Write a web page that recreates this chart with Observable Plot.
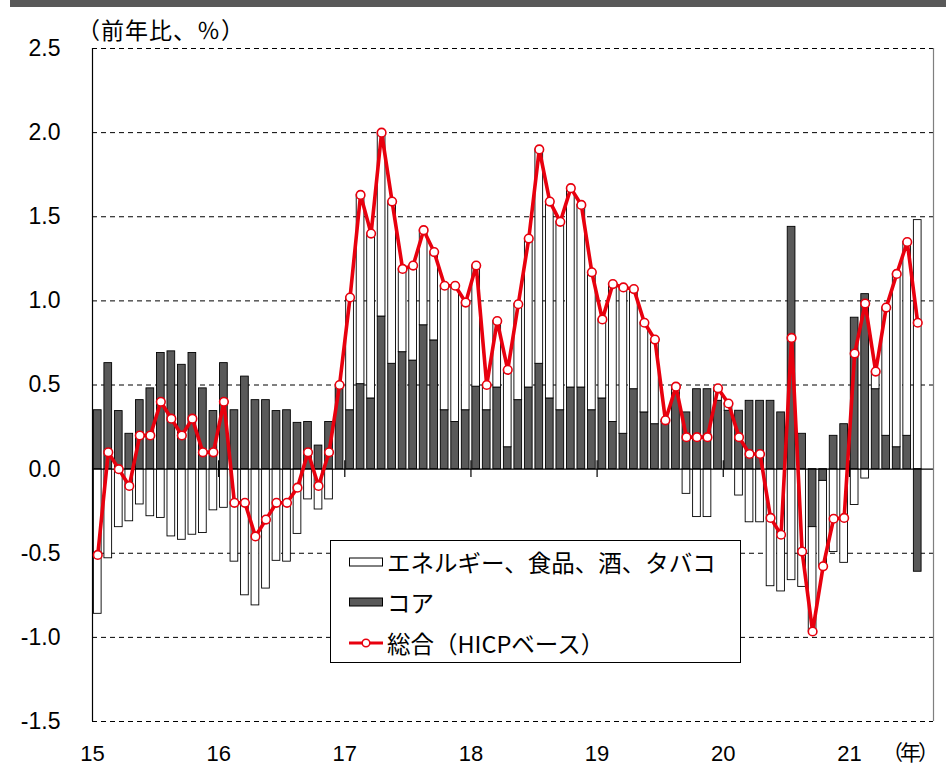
<!DOCTYPE html>
<html>
<head>
<meta charset="utf-8">
<script src="https://cdn.jsdelivr.net/npm/d3@7"></script>
<script src="https://cdn.jsdelivr.net/npm/@observablehq/plot@0.6"></script>
<style>
  body { margin: 0; background: #fff; }
  #wrap { position: relative; width: 946px; height: 766px; overflow: hidden; font-family: "Liberation Sans", Arial, sans-serif; }
  #wrap > svg { position: absolute; left: 0; top: 0; }
  .band { position: absolute; left: 10px; top: 0; width: 936px; height: 7px; background: #595959; }
  .ylab { position: absolute; left: 77px; top: 14px; font-family: "Noto Sans CJK JP", sans-serif; font-size: 23px; line-height: 30px; color: #000; white-space: nowrap; letter-spacing: 1px; }
  .xunit { position: absolute; left: 882px; top: 737px; width: 62px; font-family: "Noto Sans CJK JP", sans-serif; font-size: 21px; line-height: 28px; color: #000; white-space: nowrap; letter-spacing: -3px; }
  .legend { position: absolute; left: 330px; top: 540px; width: 409px; height: 121px; border: 1px solid #000; background: #fff; }
  .legend .row { position: absolute; left: 17px; height: 30px; display: flex; align-items: center; font-family: "Noto Sans CJK JP", sans-serif; font-size: 23.5px; color: #000; white-space: nowrap; }
  #wrap .legend svg { position: static; display: block; margin-right: 3px; flex: none; }
</style>
</head>
<body>
<div id="wrap">
  <div class="band"></div>
  <div class="ylab">（前年比、％）</div>
  <div class="xunit">（年）</div>
</div>
<script>
// Months Jan 2015 .. Jul 2021 (index 0..78); x domain spans 80 monthly slots
const yearLabels = ["15", "16", "17", "18", "19", "20", "21"];
const yTicks = [-1.5, -1.0, -0.5, 0, 0.5, 1.0, 1.5, 2.0, 2.5];
const seriesNames = ["エネルギー、食品、酒、タバコ", "コア", "総合（HICPベース）"];

// Core contribution (dark bars)
const core = [
  0.35, 0.63, 0.345, 0.21, 0.41, 0.48, 0.69, 0.70, 0.62, 0.69, 0.48, 0.345,
  0.63, 0.35, 0.55, 0.41, 0.41, 0.345, 0.35, 0.275, 0.28, 0.14, 0.28, 0.50,
  0.35, 0.505, 0.42, 0.907, 0.626, 0.695, 0.645, 0.855, 0.765, 0.35, 0.28, 0.35,
  0.49, 0.35, 0.485, 0.13, 0.41, 0.485, 0.626, 0.42, 0.35, 0.485, 0.485, 0.35,
  0.42, 0.28, 0.21, 0.475, 0.337, 0.267, 0.28, 0.45, 0.337, 0.475, 0.475, 0.406,
  0.347, 0.347, 0.406, 0.406, 0.406, 0.337, 1.44, 0.21, -0.345, -0.07, 0.198, 0.267,
  0.90, 1.04, 0.475, 0.198, 0.13, 0.198, -0.61
];
// Energy, food, alcohol, tobacco contribution (white bars)
const energyFood = [
  -0.86, -0.53, -0.345, -0.31, -0.21, -0.28, -0.29, -0.40, -0.42, -0.39, -0.38, -0.245,
  -0.23, -0.55, -0.75, -0.81, -0.71, -0.545, -0.55, -0.385, -0.18, -0.24, -0.18, 0.0,
  0.67, 1.125, 0.98, 1.093, 0.964, 0.495, 0.565, 0.565, 0.525, 0.74, 0.81, 0.64,
  0.72, 0.15, 0.395, 0.46, 0.57, 0.885, 1.274, 1.17, 1.12, 1.185, 1.085, 0.82,
  0.47, 0.82, 0.87, 0.595, 0.533, 0.503, 0.01, 0.04, -0.147, -0.285, -0.285, 0.074,
  0.043, -0.157, -0.316, -0.316, -0.696, -0.727, -0.66, -0.70, -0.62, -0.508, -0.493, -0.557,
  -0.213, -0.056, 0.105, 0.762, 1.03, 1.152, 1.48
];
// Headline HICP (red line)
const total = [
  -0.51, 0.10, 0.00, -0.10, 0.20, 0.20, 0.40, 0.30, 0.20, 0.30, 0.10, 0.10,
  0.40, -0.20, -0.20, -0.40, -0.30, -0.20, -0.20, -0.11, 0.10, -0.10, 0.10, 0.50,
  1.02, 1.63, 1.40, 2.00, 1.59, 1.19, 1.21, 1.42, 1.29, 1.09, 1.09, 0.99,
  1.21, 0.50, 0.88, 0.59, 0.98, 1.37, 1.90, 1.59, 1.47, 1.67, 1.57, 1.17,
  0.89, 1.10, 1.08, 1.07, 0.87, 0.77, 0.29, 0.49, 0.19, 0.19, 0.19, 0.48,
  0.39, 0.19, 0.09, 0.09, -0.29, -0.39, 0.78, -0.49, -0.965, -0.578, -0.295, -0.29,
  0.687, 0.984, 0.58, 0.96, 1.16, 1.35, 0.87
];

const nSlots = 80;
const yearStarts = yearLabels.map((_, k) => k * 12);

const bars = [
  ...core.map((v, i) => ({i, series: seriesNames[1], value: v})),
  ...energyFood.map((v, i) => ({i, series: seriesNames[0], value: v}))
];
const line = total.map((v, i) => ({i, value: v}));

const red = "#e8000e";

const chart = Plot.plot({
  width: 946,
  height: 766,
  marginLeft: 92,
  marginRight: 13,
  marginTop: 48,
  marginBottom: 45,
  style: {fontFamily: "'Liberation Sans', Arial, sans-serif", fontSize: "21px", background: "transparent", color: "#000"},
  x: {domain: [0, nSlots], axis: null},
  y: {domain: [-1.5, 2.5], axis: null},
  color: {domain: [seriesNames[0], seriesNames[1]], range: ["#ffffff", "#595959"]},
  marks: [
    Plot.ruleY(yTicks.filter(d => d !== 0), {stroke: "#000", strokeWidth: 1, strokeDasharray: "5,4"}),
    Plot.rectY(bars, Plot.stackY({
      x: "i",
      x1: d => d.i,
      x2: d => d.i + 1,
      y: "value",
      z: "series",
      fill: "series",
      stroke: "#000",
      strokeWidth: 0.9,
      insetLeft: 1.4,
      insetRight: 1.4
    })),
    Plot.ruleY([0], {stroke: "#000", strokeWidth: 1.2}),
    Plot.ruleX(yearStarts.slice(1), {y1: -0.05, y2: 0.05, stroke: "#000", strokeWidth: 1.2}),
    Plot.ruleX([0], {stroke: "#000", strokeWidth: 1.2}),
    Plot.ruleX([nSlots], {stroke: "#7f7f7f", strokeWidth: 1.2}),
    Plot.line(line, {x: d => d.i + 0.5, y: "value", stroke: red, strokeWidth: 3.6, strokeLinejoin: "round"}),
    Plot.dot(line, {x: d => d.i + 0.5, y: "value", r: 4.3, fill: "#fff", stroke: red, strokeWidth: 1.6}),
    Plot.axisY({ticks: yTicks, tickFormat: d => d.toFixed(1), tickSize: 0, tickPadding: 32, fontSize: 23, label: null}),
    Plot.axisX({ticks: yearStarts, tickFormat: d => yearLabels[d / 12], tickSize: 0, tickPadding: 24, fontSize: 22, label: null})
  ]
});

const wrap = document.getElementById("wrap");
wrap.insertBefore(chart, wrap.firstChild);

// Legend
const legend = document.createElement("div");
legend.className = "legend";
const rows = [
  {top: 6, name: seriesNames[0], kind: "white"},
  {top: 46, name: seriesNames[1], kind: "dark"},
  {top: 87, name: seriesNames[2], kind: "line"}
];
rows.forEach(r => {
  const row = document.createElement("div");
  row.className = "row";
  row.style.top = r.top + "px";
  let sw;
  if (r.kind === "line") {
    sw = `<svg width="36" height="12"><line x1="1" y1="6" x2="35" y2="6" stroke="${red}" stroke-width="3"/><circle cx="18" cy="6" r="3.8" fill="#fff" stroke="${red}" stroke-width="1.5"/></svg>`;
  } else {
    sw = `<svg width="36" height="12"><rect x="1.5" y="2" width="33" height="8" fill="${r.kind === "white" ? "#fff" : "#595959"}" stroke="#000" stroke-width="1"/></svg>`;
  }
  row.innerHTML = sw + `<span>${r.name}</span>`;
  legend.appendChild(row);
});
wrap.appendChild(legend);
</script>
</body>
</html>
